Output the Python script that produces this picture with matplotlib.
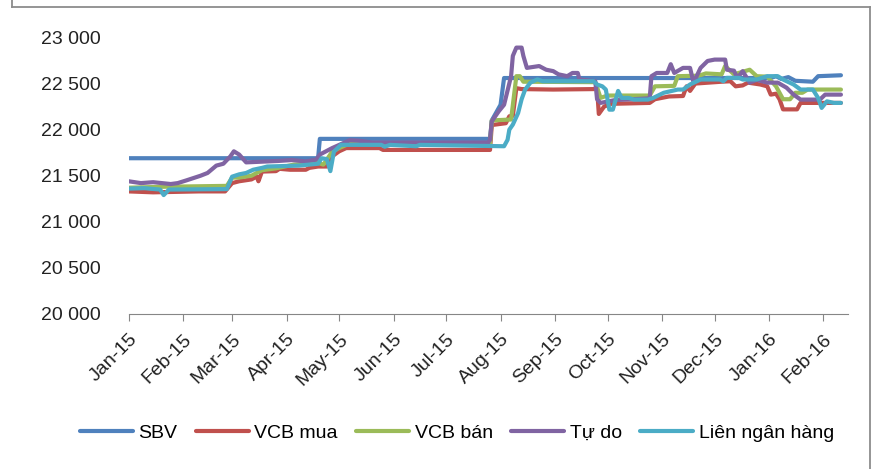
import matplotlib
matplotlib.use("Agg")
import matplotlib.pyplot as plt
import matplotlib.dates as mdates
from matplotlib.lines import Line2D
from matplotlib.ticker import FuncFormatter
import pandas as pd

plt.rcParams["font.family"] = ["Liberation Sans", "DejaVu Sans"]

# ---------------- dữ liệu ----------------
sbv_dates = ["2015-01-01", "2015-04-19", "2015-04-20", "2015-07-26", "2015-07-27",
             "2015-08-01", "2015-08-03", "2016-01-02", "2016-01-05", "2016-01-08",
             "2016-01-12", "2016-01-16", "2016-01-26", "2016-01-29", "2016-02-11"]
sbv_vals = [21690, 21690, 21900, 21900, 22100,
            22270, 22560, 22560, 22580, 22550,
            22570, 22530, 22520, 22580, 22590]

mua_dates = ["2015-01-01", "2015-01-15", "2015-02-10", "2015-02-25", "2015-03-01",
             "2015-03-05", "2015-03-12", "2015-03-15", "2015-03-16", "2015-03-18",
             "2015-03-26", "2015-03-28", "2015-04-03", "2015-04-12", "2015-04-14",
             "2015-04-19", "2015-04-24", "2015-04-27", "2015-05-01", "2015-05-05",
             "2015-05-24", "2015-05-26", "2015-07-26", "2015-07-27", "2015-08-04",
             "2015-08-06", "2015-08-08", "2015-08-10", "2015-08-13", "2015-08-31",
             "2015-09-23", "2015-09-25", "2015-09-26", "2015-09-29", "2015-10-03",
             "2015-10-25", "2015-10-28", "2015-11-05", "2015-11-13", "2015-11-15",
             "2015-11-17", "2015-11-20", "2015-12-05", "2015-12-10", "2015-12-13",
             "2015-12-17", "2015-12-20", "2015-12-27", "2015-12-31", "2016-01-02",
             "2016-01-05", "2016-01-07", "2016-01-09", "2016-01-17", "2016-01-19",
             "2016-02-11"]
mua_vals = [21330, 21320, 21330, 21330, 21420,
            21440, 21460, 21490, 21440, 21545,
            21550, 21575, 21565, 21565, 21585,
            21600, 21600, 21710, 21765, 21800,
            21800, 21780, 21780, 22050, 22070,
            22145, 22150, 22450, 22440, 22435,
            22440, 22450, 22170, 22250, 22280,
            22290, 22330, 22360, 22365, 22470,
            22420, 22500, 22520, 22525, 22470,
            22480, 22510, 22490, 22470, 22380,
            22390, 22330, 22220, 22220, 22290,
            22290]

ban_dates = ["2015-01-01", "2015-01-20", "2015-02-26", "2015-03-01", "2015-03-05",
             "2015-03-12", "2015-03-15", "2015-03-18", "2015-03-26", "2015-04-05",
             "2015-04-19", "2015-04-22", "2015-04-27", "2015-05-01", "2015-05-07",
             "2015-07-26", "2015-07-27", "2015-08-07", "2015-08-10", "2015-08-12",
             "2015-08-14", "2015-09-24", "2015-09-27", "2015-10-01", "2015-10-25",
             "2015-10-28", "2015-11-08", "2015-11-10", "2015-11-22", "2015-11-26",
             "2015-12-05", "2015-12-07", "2015-12-12", "2015-12-21", "2015-12-25",
             "2015-12-31", "2016-01-05", "2016-01-07", "2016-01-09", "2016-01-13",
             "2016-01-16", "2016-01-20", "2016-01-23", "2016-02-11"]
ban_vals = [21370, 21380, 21390, 21480, 21480,
            21500, 21530, 21560, 21580, 21620,
            21640, 21620, 21760, 21800, 21850,
            21850, 22100, 22110, 22580, 22580,
            22520, 22515, 22345, 22370, 22370,
            22470, 22475, 22580, 22585, 22610,
            22600, 22690, 22600, 22650, 22580,
            22575, 22470, 22400, 22330, 22330,
            22400, 22400, 22435, 22435]

tudo_dates = ["2015-01-01", "2015-01-08", "2015-01-15", "2015-01-25", "2015-01-29",
              "2015-02-03", "2015-02-11", "2015-02-15", "2015-02-20", "2015-02-24",
              "2015-02-28", "2015-03-02", "2015-03-05", "2015-03-09", "2015-03-27",
              "2015-04-04", "2015-04-12", "2015-04-18", "2015-04-20", "2015-04-27",
              "2015-05-07", "2015-05-12", "2015-05-20", "2015-07-25", "2015-07-26",
              "2015-07-27", "2015-07-31", "2015-08-03", "2015-08-07", "2015-08-08",
              "2015-08-10", "2015-08-13", "2015-08-14", "2015-08-16", "2015-08-23",
              "2015-08-27", "2015-08-31", "2015-09-03", "2015-09-08", "2015-09-11",
              "2015-09-14", "2015-09-15", "2015-09-24", "2015-09-25", "2015-09-27",
              "2015-10-05", "2015-10-25", "2015-10-26", "2015-10-29", "2015-11-04",
              "2015-11-06", "2015-11-08", "2015-11-13", "2015-11-17", "2015-11-19",
              "2015-11-23", "2015-11-27", "2015-12-01", "2015-12-07", "2015-12-08",
              "2015-12-12", "2015-12-14", "2015-12-17", "2015-12-21", "2015-12-25",
              "2015-12-31", "2016-01-06", "2016-01-11", "2016-01-15", "2016-01-19",
              "2016-01-30", "2016-02-02", "2016-02-11"]
tudo_vals = [21440, 21420, 21430, 21410, 21420,
             21450, 21500, 21530, 21610, 21630,
             21710, 21765, 21730, 21645, 21660,
             21670, 21655, 21675, 21730, 21800,
             21885, 21880, 21860, 21860, 21890,
             22090, 22200, 22270, 22580, 22800,
             22890, 22890, 22800, 22670, 22690,
             22650, 22635, 22600, 22580, 22615,
             22615, 22545, 22525, 22330, 22290,
             22320, 22340, 22580, 22615, 22615,
             22710, 22615, 22670, 22670, 22510,
             22670, 22745, 22760, 22760, 22650,
             22640, 22560, 22635, 22510, 22540,
             22510, 22510, 22455, 22380, 22326,
             22326, 22380, 22380]

lnh_dates = ["2015-01-01", "2015-01-10", "2015-01-19", "2015-01-21", "2015-01-24",
             "2015-02-26", "2015-03-01", "2015-03-05", "2015-03-09", "2015-03-13",
             "2015-03-18", "2015-03-21", "2015-04-08", "2015-04-19", "2015-04-21",
             "2015-04-24", "2015-04-26", "2015-04-28", "2015-05-02", "2015-05-25",
             "2015-05-27", "2015-05-30", "2015-06-14", "2015-06-16", "2015-08-03",
             "2015-08-05", "2015-08-06", "2015-08-08", "2015-08-11", "2015-08-13",
             "2015-08-15", "2015-08-18", "2015-08-22", "2015-08-25", "2015-09-23",
             "2015-09-25", "2015-09-28", "2015-09-30", "2015-10-02", "2015-10-04",
             "2015-10-07", "2015-10-09", "2015-10-13", "2015-10-16", "2015-10-24",
             "2015-10-27", "2015-11-02", "2015-11-10", "2015-11-13", "2015-11-17",
             "2015-11-23", "2015-12-04", "2015-12-06", "2015-12-08", "2015-12-15",
             "2015-12-17", "2015-12-25", "2015-12-31", "2016-01-06", "2016-01-09",
             "2016-01-15", "2016-01-19", "2016-01-26", "2016-01-29", "2016-01-31",
             "2016-02-03", "2016-02-07", "2016-02-11"]
lnh_vals = [21360, 21365, 21350, 21290, 21350,
            21355, 21490, 21515, 21530, 21565,
            21585, 21600, 21610, 21630, 21690,
            21680, 21550, 21760, 21835, 21835,
            21815, 21835, 21820, 21835, 21820,
            21890, 22000, 22055, 22180, 22330,
            22435, 22510, 22545, 22525, 22525,
            22490, 22470, 22435, 22217, 22217,
            22420, 22344, 22344, 22326, 22326,
            22344, 22400, 22435, 22435, 22490,
            22544, 22544, 22525, 22562, 22562,
            22544, 22544, 22580, 22580, 22544,
            22490, 22435, 22435, 22344, 22236,
            22307, 22290, 22290]

series = [
    ("SBV", sbv_dates, sbv_vals, "#4F81BD"),
    ("VCB mua", mua_dates, mua_vals, "#C0504D"),
    ("VCB bán", ban_dates, ban_vals, "#9BBB59"),
    ("Tự do", tudo_dates, tudo_vals, "#8064A2"),
    ("Liên ngân hàng", lnh_dates, lnh_vals, "#4BACC6"),
]

fig = plt.figure(figsize=(8.82, 4.69), dpi=100)
ax = fig.add_axes([0.1458, 0.3305, 0.8156, 0.5896])

for name, d, v, c in series:
    ax.plot(pd.to_datetime(d), v, color=c, lw=3.0, label=name,
            solid_joinstyle="round", solid_capstyle="round")

ax.set_ylim(20000, 23000)
ax.set_yticks(range(20000, 23001, 500))
ax.yaxis.set_major_formatter(FuncFormatter(lambda v, p: f"{int(v):,}".replace(",", " ")))
ax.set_xlim(pd.Timestamp("2015-01-01"), pd.Timestamp("2016-02-15"))
ax.set_xticks(pd.date_range("2015-01-01", "2016-02-01", freq="MS"))
ax.xaxis.set_major_formatter(mdates.DateFormatter("%b-%y"))

for s in ("top", "right", "left"):
    ax.spines[s].set_visible(False)
ax.spines["bottom"].set_color("#868686")
ax.tick_params(axis="y", length=0, pad=20, labelsize=14, labelcolor="#222222")
ax.tick_params(axis="x", length=5, color="#868686", direction="out", labelsize=14,
               labelcolor="#222222", pad=7)
for lab in ax.get_xticklabels():
    lab.set_rotation(45)
    lab.set_ha("right")
    lab.set_rotation_mode("anchor")

fig.legend(loc="center", bbox_to_anchor=(457 / 882, 1 - 433 / 469), ncol=5,
           frameon=False, fontsize=14, handlelength=2.7, handletextpad=0.3,
           columnspacing=0.95)

# khung viền hình
for xs, ys in [((12 / 882, 12 / 882), (1.02, 1 - 7 / 469)),
               ((12 / 882, 870 / 882), (1 - 7 / 469, 1 - 7 / 469)),
               ((870 / 882, 870 / 882), (1 - 7 / 469, -0.02))]:
    fig.add_artist(Line2D(xs, ys, transform=fig.transFigure, color="#8c8c8c", lw=1.3))

fig.savefig("out.png", dpi=100)
